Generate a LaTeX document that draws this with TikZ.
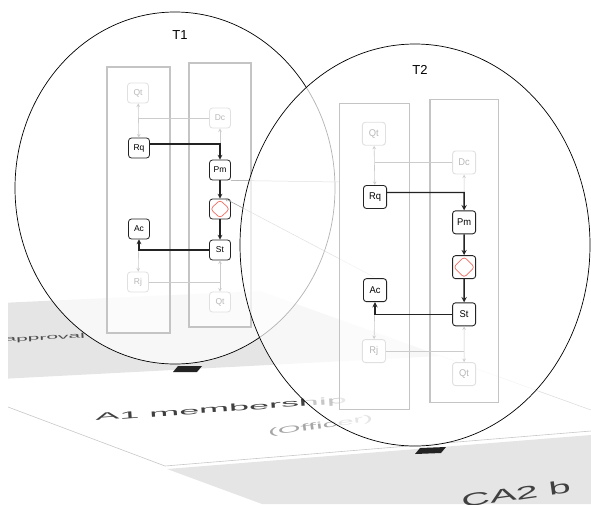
\documentclass[tikz,border=0pt]{standalone}
\usepackage{fontspec}
\setmainfont{Liberation Sans}
\usepackage{tikz}

\definecolor{sheet}{RGB}{229,229,229}
\definecolor{lanegray}{RGB}{196,196,196}
\definecolor{gwred}{RGB}{240,108,96}
\definecolor{ink}{RGB}{35,35,35}

% one transaction: two swim lanes, the steps and the path taken
\newcommand{\txflow}[1]{%
	\draw[lane] (-32,-81) rectangle (31,185);
	\draw[lane] (50,-85) rectangle (112,179);
	\node[off] (#1-qa) at (-1,-55) {Qt};
	\node[off] (#1-dc) at (81,-30) {Dc};
	\node[act] (#1-rq) at (0,0) {Rq};
	\node[act] (#1-pm) at (81,22) {Pm};
	\node[act,gate] (#1-gw) at (81,61) {};
	\node[act] (#1-ac) at (0,81) {Ac};
	\node[act] (#1-st) at (81,102) {St};
	\node[off] (#1-rj) at (-1,134) {Rj};
	\node[off] (#1-qb) at (81,154) {Qt};
	% greyed-out paths
	\draw[faint] (#1-qa) -- (#1-rq);
	\draw[dim] (#1-dc.west) -- (#1-dc.west -| #1-rq);
	\draw[faint] (#1-ac) -- (#1-rj);
	\draw[dim] (#1-rj.east) -- (#1-rj.east -| #1-st);
	\draw[faint] (#1-st) -- (#1-qb);
	% path taken
	\path ([yshift=4pt]#1-rq.east) coordinate (#1-out);
	\coordinate (#1-jn) at (#1-out -| #1-pm);
	\draw[dim,-stealth] (#1-jn) -- (#1-dc);
	\draw[flow] (#1-out) -- (#1-jn) -- (#1-pm);
	\draw[flow] (#1-pm) -- (#1-gw);
	\draw[flow] (#1-gw) -- (#1-st);
	\draw[flow] (#1-st.west) -| (#1-ac.south);
}

\begin{document}
\begin{tikzpicture}[x=1pt,y=-1pt,
		lane/.style={draw=lanegray,line width=1.1pt,fill=white,fill opacity=.6},
		act/.style={draw=ink,line width=.8pt,fill=white,rounded corners=3pt,minimum width=21pt,minimum height=20pt,inner sep=0pt,font=\fontsize{8.5}{9}\selectfont},
		off/.style={act,draw=black!12,text=black!28},
		gate/.style={path picture={\draw[gwred,line width=.7pt]
				([yshift=-1pt]path picture bounding box.north) -- ([xshift=-1pt]path picture bounding box.east) --
				([yshift=1pt]path picture bounding box.south) -- ([xshift=1pt]path picture bounding box.west) -- cycle;}},
		flow/.style={-stealth,line width=1.1pt,draw=ink},
		dim/.style={line width=.6pt,draw=black!20},
		faint/.style={dim,stealth-stealth},
		guide/.style={line width=.5pt,draw=black!40},
		lens/.style={draw=black,line width=.7pt,fill=white,fill opacity=.7},
		title/.style={font=\fontsize{13}{14}\selectfont},
	]
	\useasboundingbox (0,0) rectangle (591,504);

	% sheets lying in perspective
	\begin{scope}
		\clip (8,0) rectangle (591,504);
		\fill[sheet] (0,303) -- (260,291) -- (441,356) -- (0,379) -- cycle;
		\draw[black!22,line width=.6pt] (0,404) -- (165,466) -- (591,431);
		\fill[sheet] (167,469) -- (591,435) -- (591,504) -- (262,504) -- cycle;
		\draw[black!15,line width=.5pt] (441,356) -- (591,410);
		\node[anchor=base west,rotate=3,xscale=3,inner sep=0,text=black!70,font=\fontsize{7}{8}\selectfont] (sheetA) at (4,342) {approval};
		\node[anchor=base west,rotate=4,xscale=3.6,inner sep=0,text=black!75,font=\fontsize{10}{11}\selectfont] (sheetB) at (95,421) {A1 membership};
		\node[anchor=base west,rotate=8,xscale=3.1,inner sep=0,text=black!35,font=\fontsize{9.5}{10}\selectfont] (role) at (268,436) {(Officer)};
		\node[anchor=base west,rotate=8,xscale=2.2,inner sep=0,text=black!75,font=\fontsize{18}{20}\selectfont] (sheetC) at (462,508) {CA2 b};
		% pins under the lenses
		\fill[ink] (178,366) -- (202,366) -- (197,372) -- (173,372) -- cycle;
		\fill[ink] (420,448) -- (446,447) -- (441,453) -- (415,454) -- cycle;
	\end{scope}

	% first lens
	\draw[lens] (175,188) ellipse [x radius=160pt,y radius=176pt];
	\node[title] (t1) at (180,35) {T1};
	\begin{scope}[shift={(139,148)}]
		\txflow{T1}
	\end{scope}
	\coordinate (gd) at (340,182);
	\coordinate (lk) at (374,277);
	\draw[guide] (T1-pm.south east) -- (gd);
	\draw[guide,-stealth] (lk) -- ([xshift=5pt]T1-gw.north);

	% second lens
	\draw[lens] (415,245) ellipse [x radius=175pt,y radius=201pt];
	\node[title] (t2) at (420,70) {T2};
	\begin{scope}[shift={(375,197)},xscale=1.1,yscale=1.15,transform shape,
			flow/.append style={line width=1.3pt},act/.append style={line width=.9pt}]
		\txflow{T2}
	\end{scope}
\end{tikzpicture}
\end{document}
